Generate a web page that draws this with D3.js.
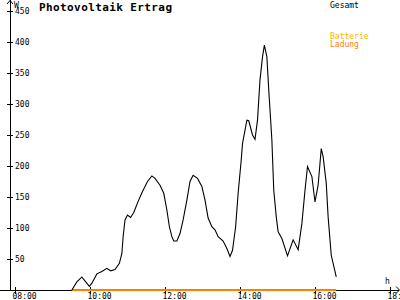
<!DOCTYPE html>
<html>
<head>
<meta charset="utf-8">
<script src="https://cdn.jsdelivr.net/npm/d3@7"></script>
<style>
  body { margin: 0; background: #fff; }
  svg { display: block; }
  .lbl { font-family: "DejaVu Sans Mono", monospace; font-size: 8px; fill: #000; }
</style>
</head>
<body>
<div id="chart"></div>
<script>
// Gesamt (W), times as HH:MM
const times = [
  "09:31", "09:39", "09:47", "09:50", "09:59", "10:03", "10:11", "10:19", "10:27", "10:33",
  "10:40", "10:47", "10:51", "10:53", "10:56", "11:00", "11:05", "11:10", "11:17", "11:24",
  "11:32", "11:39", "11:44", "11:52", "11:58", "12:03", "12:07", "12:11", "12:14", "12:19",
  "12:24", "12:29", "12:35", "12:40", "12:45", "12:52", "12:59", "13:04", "13:09", "13:15",
  "13:20", "13:25", "13:33", "13:39", "13:44", "13:48", "13:53", "13:57", "14:02", "14:04",
  "14:11", "14:14", "14:20", "14:24", "14:28", "14:32", "14:36", "14:39", "14:43", "14:46",
  "14:51", "14:54", "14:58", "15:01", "15:07", "15:16", "15:25", "15:33", "15:39", "15:44",
  "15:48", "15:55", "16:00", "16:05", "16:10", "16:13", "16:18", "16:21", "16:26", "16:34"
];
const gesamt = [
  0, 13, 21, 17, 6, 11, 26, 30, 35, 31,
  33, 43, 59, 86, 113, 121, 117, 125, 143, 159,
  175, 184, 180, 169, 156, 129, 102, 86, 79, 79,
  91, 113, 145, 175, 185, 180, 167, 145, 116, 102,
  97, 86, 79, 67, 54, 64, 102, 156, 210, 236,
  274, 273, 250, 243, 274, 339, 376, 395, 376, 323,
  242, 161, 118, 94, 83, 55, 81, 65, 107, 161,
  199, 183, 142, 169, 228, 215, 172, 118, 56, 21
];
// Ladung stays at zero over the same span
const ladungTimes = ["09:31", "16:34"];
const ladung = [0, 0];

const yTicks = [50, 100, 150, 200, 250, 300, 350, 400, 450];
const xTicks = ["08:00", "10:00", "12:00", "14:00", "16:00", "18:00"];

const legendItems = [
  { label: "Gesamt", color: "#000000", y: 8 },
  { label: "Batterie", color: "#ffb400", y: 39 },
  { label: "Ladung", color: "#ff8000", y: 47 }
];

const width = 400, height = 300;
const parse = d3.timeParse("%H:%M");

const x = d3.scaleTime()
  .domain([parse("08:00"), parse("18:00")])
  .range([15, 390]);
const y = d3.scaleLinear()
  .domain([0, 450])
  .range([290, 11]);

const svg = d3.select("#chart").append("svg")
  .attr("width", width)
  .attr("height", height);

svg.append("rect").attr("width", width).attr("height", height).attr("fill", "#fff");

// —— Axes ——
const yAxis = svg.append("g")
  .attr("transform", "translate(10,0)")
  .call(d3.axisRight(y).tickValues(yTicks).tickSize(3).tickPadding(2));
yAxis.select(".domain").remove();
yAxis.selectAll(".tick line").attr("x1", -3).attr("x2", 3).attr("stroke", "#000");
yAxis.selectAll(".tick text")
  .attr("class", "lbl")
  .attr("x", 5)
  .attr("dy", "0.32em")
  .attr("font-family", null).attr("font-size", null);

const xAxis = svg.append("g")
  .attr("transform", "translate(0,290)")
  .call(d3.axisBottom(x).tickValues(xTicks.map(parse)).tickFormat(d3.timeFormat("%H:%M")).tickSize(4));
xAxis.select(".domain").remove();
xAxis.selectAll(".tick line").attr("y1", -3).attr("y2", 4).attr("stroke", "#000");
xAxis.selectAll(".tick text")
  .attr("class", "lbl")
  .attr("text-anchor", "start")
  .attr("x", -3)
  .attr("y", 9)
  .attr("dy", 0)
  .attr("font-family", null).attr("font-size", null);

const axisLines = svg.append("g").attr("stroke", "#000").attr("shape-rendering", "crispEdges");
axisLines.append("line").attr("x1", 10).attr("x2", 10).attr("y1", 0).attr("y2", 290);
axisLines.append("line").attr("x1", 0).attr("x2", 399).attr("y1", 290).attr("y2", 290);

// arrows
svg.append("path").attr("fill", "none").attr("stroke", "#000")
  .attr("d", "M7,4L10,0.5L13,4 M396,286.5L399.5,290L396,293.5");
svg.append("text").attr("class", "lbl").attr("x", 14).attr("y", 8).text("W");
svg.append("text").attr("class", "lbl").attr("x", 385).attr("y", 284).text("h");

// —— Title ——
svg.append("text")
  .attr("x", 39)
  .attr("y", 11)
  .attr("font-family", "DejaVu Sans Mono, monospace")
  .attr("font-weight", "bold")
  .attr("font-size", 11)
  .attr("textLength", 133)
  .text("Photovoltaik Ertrag");

// —— Lines ——
const gesamtData = times.map((t, i) => ({ t: parse(t), v: gesamt[i] }));
const ladungData = ladungTimes.map((t, i) => ({ t: parse(t), v: ladung[i] }));

const line = d3.line().x(d => x(d.t)).y(d => y(d.v));

svg.append("path")
  .datum(ladungData)
  .attr("fill", "none")
  .attr("stroke", "#ff8000")
  .attr("stroke-width", 2)
  .attr("d", line);

svg.append("path")
  .datum(gesamtData)
  .attr("fill", "none")
  .attr("stroke", "#000")
  .attr("stroke-width", 1.1)
  .attr("d", line);

// —— Legend ——
svg.append("g").selectAll("text")
  .data(legendItems)
  .join("text")
  .attr("class", "lbl")
  .attr("x", 330)
  .attr("y", d => d.y)
  .attr("fill", d => d.color)
  .style("fill", d => d.color)
  .text(d => d.label);
</script>
</body>
</html>
